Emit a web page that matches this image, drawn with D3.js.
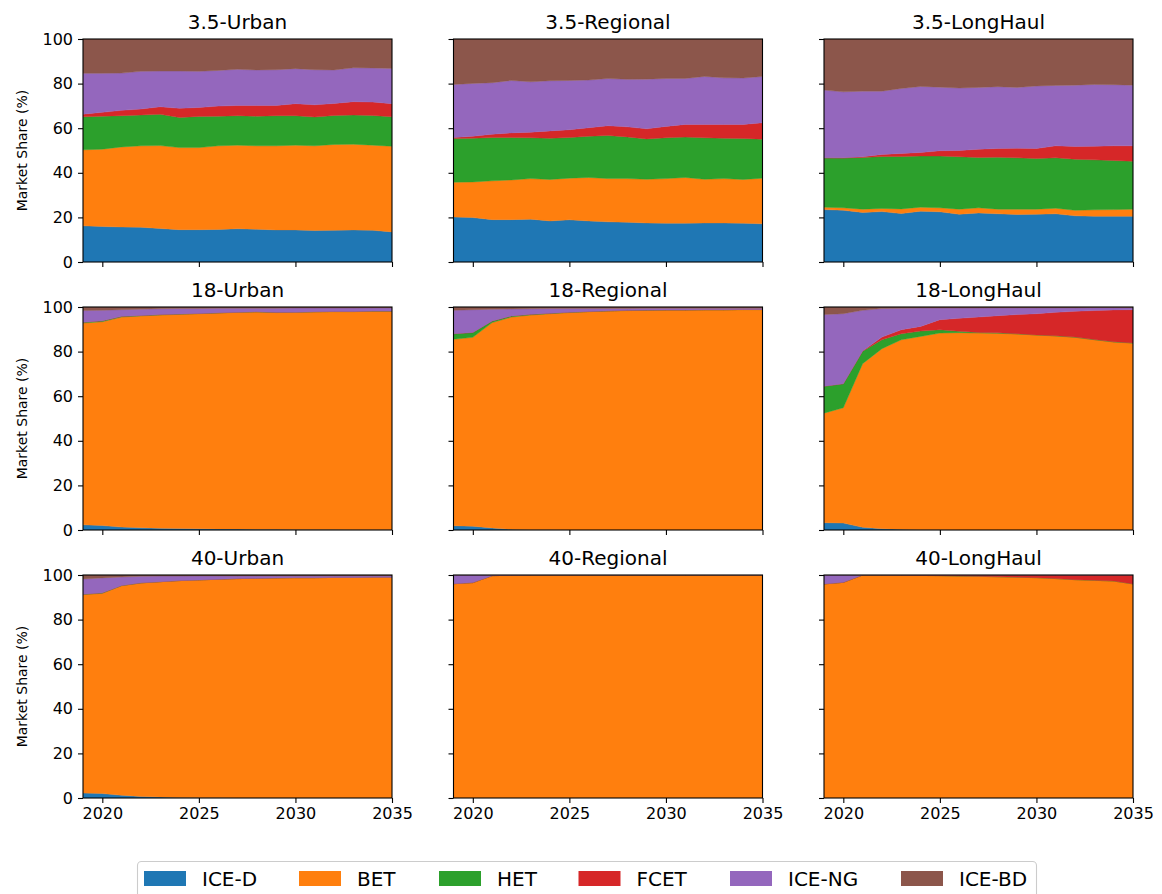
<!DOCTYPE html>
<html>
<head>
<meta charset="utf-8">
<script src="https://cdn.jsdelivr.net/npm/d3@7"></script>
<style>
  html, body { margin: 0; padding: 0; background: #fff; }
  svg { display: block; font-family: "DejaVu Sans", sans-serif; }
</style>
</head>
<body>
<svg id="chart" width="1162" height="894"></svg>
<script>
// Years on the x axis and the tick labels shown
const years = [2019, 2020, 2021, 2022, 2023, 2024, 2025, 2026, 2027, 2028, 2029, 2030, 2031, 2032, 2033, 2034, 2035];
const xTicks = [2020, 2025, 2030, 2035];
const yTicks = [0, 20, 40, 60, 80, 100];

// Powertrain technologies (stack order, bottom to top) and their colours
const technologies = ["ICE-D", "BET", "HET", "FCET", "ICE-NG", "ICE-BD"];
const techColors = ["#1f77b4", "#ff7f0e", "#2ca02c", "#d62728", "#9467bd", "#8c564b"];

// Vehicle weight classes (rows) and duty cycles (columns)
const weightClasses = ["3.5", "18", "40"];
const dutyCycles = ["Urban", "Regional", "LongHaul"];

// Market share (%) per technology, 3.5 t
const t35Urban_ICED  = [16.2,15.9,15.7,15.6,15.0,14.5,14.5,14.6,14.9,14.7,14.4,14.4,14.1,14.2,14.4,14.2,13.5];
const t35Urban_BET   = [34.1,34.7,35.9,36.5,37.2,36.8,36.8,37.5,37.5,37.4,37.7,38.0,38.0,38.5,38.4,38.2,38.4];
const t35Urban_HET   = [14.8,14.8,14.0,13.8,14.0,13.5,14.0,13.3,13.2,13.3,13.5,13.2,12.9,13.0,13.1,13.3,13.2];
const t35Urban_FCET  = [1.2,1.7,2.4,2.7,3.4,4.1,4.0,4.5,4.6,4.8,4.6,5.4,5.5,5.4,6.0,6.0,5.9];
const t35Urban_ICENG = [18.3,17.5,16.7,16.9,16.0,16.7,16.2,16.0,16.2,15.9,16.0,15.7,15.7,15.0,15.2,15.3,15.8];
const t35Urban_ICEBD = [15.4,15.4,15.3,14.5,14.4,14.4,14.5,14.1,13.6,13.9,13.8,13.3,13.8,13.9,12.9,13.0,13.2];

const t35Regional_ICED  = [20.2,19.9,19.0,19.0,19.2,18.4,18.9,18.4,18.0,17.8,17.5,17.4,17.4,17.5,17.5,17.4,17.1];
const t35Regional_BET   = [15.6,16.0,17.4,17.8,18.2,18.6,18.7,19.5,19.4,19.6,19.6,20.0,20.5,19.6,19.9,19.6,20.5];
const t35Regional_HET   = [19.6,19.6,19.4,19.0,18.3,18.5,18.2,18.5,19.3,18.7,18.1,18.3,18.1,18.6,18.1,18.4,17.5];
const t35Regional_FCET  = [0.4,0.9,1.5,2.1,2.5,3.3,3.5,3.8,4.4,4.5,4.5,5.1,5.7,6.0,6.2,6.3,7.3];
const t35Regional_ICENG = [23.8,23.7,23.1,23.5,22.6,22.5,22.1,21.4,21.2,21.3,22.3,21.5,20.6,21.5,20.9,20.8,20.8];
const t35Regional_ICEBD = [20.4,19.9,19.6,18.6,19.2,18.7,18.6,18.4,17.7,18.1,18.0,17.7,17.7,16.8,17.4,17.5,16.8];

const t35LongHaul_ICED  = [23.5,23.2,22.2,22.6,21.7,22.8,22.5,21.4,22.0,21.6,21.3,21.4,21.6,20.7,20.5,20.5,20.5];
const t35LongHaul_BET   = [1.1,1.1,1.5,1.4,2.1,1.8,1.8,2.3,2.3,2.1,2.4,2.3,2.5,2.5,2.9,3.0,3.2];
const t35LongHaul_HET   = [22.1,22.3,23.2,23.3,23.5,22.9,23.2,23.5,22.6,23.3,23.0,22.7,22.6,22.9,22.4,22.0,21.5];
const t35LongHaul_FCET  = [0.0,0.1,0.3,0.9,1.4,1.6,2.4,2.8,3.7,3.9,4.3,4.5,5.4,5.7,6.1,6.6,6.9];
const t35LongHaul_ICENG = [30.4,29.6,29.4,28.4,29.1,29.6,28.5,28.0,27.7,27.7,27.3,28.0,27.1,27.5,27.7,27.4,27.2];
const t35LongHaul_ICEBD = [22.9,23.7,23.4,23.4,22.2,21.3,21.6,22.0,21.7,21.4,21.7,21.1,20.8,20.7,20.4,20.5,20.7];

// Market share (%) per technology, 18 t
const t18Urban_ICED  = [2.3,2.0,1.3,1.0,0.8,0.7,0.6,0.5,0.4,0.3,0.3,0.2,0.2,0.2,0.1,0.1,0.1];
const t18Urban_BET   = [90.5,91.4,94.2,95.0,95.6,96.0,96.4,96.8,97.2,97.5,97.2,97.4,97.6,97.7,97.8,98.0,98.0];
const t18Urban_HET   = [0.4,0.4,0.3,0.2,0.2,0.2,0.1,0.1,0.1,0.1,0.1,0.1,0.1,0.1,0.1,0.1,0.1];
const t18Urban_FCET  = [0,0,0,0,0,0,0,0,0,0,0,0,0,0,0,0,0];
const t18Urban_ICENG = [5.2,4.7,3.0,2.8,2.6,2.4,2.2,2.0,1.7,1.5,1.8,1.8,1.6,1.5,1.5,1.4,1.4];
const t18Urban_ICEBD = [1.6,1.5,1.2,1.0,0.8,0.7,0.7,0.6,0.6,0.6,0.6,0.5,0.5,0.5,0.5,0.4,0.4];

const t18Regional_ICED  = [1.9,1.7,0.9,0.3,0.1,0.1,0,0,0,0,0,0,0,0,0,0,0];
const t18Regional_BET   = [83.6,84.7,92.1,95.2,96.3,96.9,97.5,97.9,98.2,98.4,98.5,98.6,98.6,98.7,98.7,98.8,98.8];
const t18Regional_HET   = [2.5,2.2,0.7,0.5,0.3,0.2,0.2,0.1,0.1,0.1,0.1,0.1,0.1,0.1,0.1,0.1,0.1];
const t18Regional_FCET  = [0,0,0,0,0,0,0,0,0,0,0,0,0,0,0,0,0];
const t18Regional_ICENG = [10.5,10.2,5.3,3.1,2.5,2.1,1.6,1.3,1.0,0.8,0.8,0.7,0.7,0.6,0.6,0.5,0.5];
const t18Regional_ICEBD = [1.5,1.2,1.0,0.9,0.8,0.7,0.7,0.7,0.7,0.7,0.6,0.6,0.6,0.6,0.6,0.6,0.6];

const t18LongHaul_ICED  = [3.3,3.1,1.2,0.6,0.3,0.1,0.1,0,0,0,0,0,0,0,0,0,0];
const t18LongHaul_BET   = [49.1,51.7,73.4,80.7,85.0,86.7,88.2,88.5,88.3,88.2,87.9,87.4,87.0,86.4,85.3,84.3,83.8];
const t18LongHaul_HET   = [12.1,10.8,5.6,4.0,2.7,2.4,1.5,0.6,0.3,0.2,0.1,0.1,0.1,0.1,0.1,0.1,0.1];
const t18LongHaul_FCET  = [0,0,0.1,1.2,1.8,2.1,4.5,5.8,6.9,7.7,8.6,9.5,10.5,11.6,13.0,14.3,14.9];
const t18LongHaul_ICENG = [32.1,31.4,18.2,12.8,9.6,8.2,5.2,4.6,4.0,3.5,3.0,2.6,2.0,1.5,1.3,1.0,0.9];
const t18LongHaul_ICEBD = [3.4,3.0,1.5,0.7,0.6,0.5,0.5,0.5,0.5,0.4,0.4,0.4,0.4,0.4,0.3,0.3,0.3];

// Market share (%) per technology, 40 t
const t40Urban_ICED  = [2.2,2.0,1.2,0.7,0.4,0.2,0.1,0.1,0,0,0,0,0,0,0,0,0];
const t40Urban_BET   = [89.0,89.8,94.0,95.7,96.6,97.3,97.7,98.0,98.4,98.5,98.7,98.8,98.8,98.9,98.9,99.0,99.0];
const t40Urban_HET   = [0.2,0.2,0.1,0.1,0,0,0,0,0,0,0,0,0,0,0,0,0];
const t40Urban_FCET  = [0,0,0,0,0,0,0,0,0,0,0,0,0,0,0,0,0];
const t40Urban_ICENG = [6.8,6.7,3.8,2.9,2.5,2.0,1.8,1.5,1.2,1.1,0.9,0.8,0.8,0.7,0.7,0.6,0.6];
const t40Urban_ICEBD = [1.8,1.3,0.9,0.6,0.5,0.5,0.4,0.4,0.4,0.4,0.4,0.4,0.4,0.4,0.4,0.4,0.4];

const t40Regional_ICED  = [0,0,0,0,0,0,0,0,0,0,0,0,0,0,0,0,0];
const t40Regional_BET   = [96.1,96.6,99.7,99.9,100,100,100,100,100,100,100,100,100,100,100,100,100];
const t40Regional_HET   = [0,0,0,0,0,0,0,0,0,0,0,0,0,0,0,0,0];
const t40Regional_FCET  = [0,0,0,0,0,0,0,0,0,0,0,0,0,0,0,0,0];
const t40Regional_ICENG = [3.9,3.4,0.3,0.1,0,0,0,0,0,0,0,0,0,0,0,0,0];
const t40Regional_ICEBD = [0,0,0,0,0,0,0,0,0,0,0,0,0,0,0,0,0];

const t40LongHaul_ICED  = [0,0,0,0,0,0,0,0,0,0,0,0,0,0,0,0,0];
const t40LongHaul_BET   = [96.0,96.7,100,100,99.9,99.8,99.7,99.5,99.4,99.2,99.0,98.8,98.4,97.9,97.6,97.3,96.0];
const t40LongHaul_HET   = [0,0,0,0,0,0,0,0,0,0,0,0,0,0,0,0,0];
const t40LongHaul_FCET  = [0,0,0,0,0.1,0.2,0.3,0.5,0.6,0.8,1.0,1.2,1.6,2.1,2.4,2.7,4.0];
const t40LongHaul_ICENG = [4.0,3.3,0,0,0,0,0,0,0,0,0,0,0,0,0,0,0];
const t40LongHaul_ICEBD = [0,0,0,0,0,0,0,0,0,0,0,0,0,0,0,0,0];

// Series of each panel, grouped in technology order
const panelSeries = [
  [
    [t35Urban_ICED, t35Urban_BET, t35Urban_HET, t35Urban_FCET, t35Urban_ICENG, t35Urban_ICEBD],
    [t35Regional_ICED, t35Regional_BET, t35Regional_HET, t35Regional_FCET, t35Regional_ICENG, t35Regional_ICEBD],
    [t35LongHaul_ICED, t35LongHaul_BET, t35LongHaul_HET, t35LongHaul_FCET, t35LongHaul_ICENG, t35LongHaul_ICEBD]
  ],
  [
    [t18Urban_ICED, t18Urban_BET, t18Urban_HET, t18Urban_FCET, t18Urban_ICENG, t18Urban_ICEBD],
    [t18Regional_ICED, t18Regional_BET, t18Regional_HET, t18Regional_FCET, t18Regional_ICENG, t18Regional_ICEBD],
    [t18LongHaul_ICED, t18LongHaul_BET, t18LongHaul_HET, t18LongHaul_FCET, t18LongHaul_ICENG, t18LongHaul_ICEBD]
  ],
  [
    [t40Urban_ICED, t40Urban_BET, t40Urban_HET, t40Urban_FCET, t40Urban_ICENG, t40Urban_ICEBD],
    [t40Regional_ICED, t40Regional_BET, t40Regional_HET, t40Regional_FCET, t40Regional_ICENG, t40Regional_ICEBD],
    [t40LongHaul_ICED, t40LongHaul_BET, t40LongHaul_HET, t40LongHaul_FCET, t40LongHaul_ICENG, t40LongHaul_ICEBD]
  ]
];

// ---- layout ----
const svg = d3.select("#chart");
const colLeft = [83, 453.5, 824];
const rowTop = [39, 307, 575];
const panelW = 309;
const panelH = 223;

const x = d3.scaleLinear().domain([years[0], years[years.length - 1]]).range([0, panelW]);
const y = d3.scaleLinear().domain([0, 100]).range([panelH, 0]);

const stack = d3.stack().keys(technologies);
const area = d3.area()
  .x(d => x(d.data.year))
  .y0(d => y(d[0]))
  .y1(d => y(d[1]));

weightClasses.forEach((wc, r) => {
  dutyCycles.forEach((dc, c) => {
    const series = panelSeries[r][c];
    const table = years.map((yr, i) => {
      const row = { year: yr };
      technologies.forEach((t, k) => { row[t] = series[k][i]; });
      return row;
    });

    const g = svg.append("g")
      .attr("transform", `translate(${colLeft[c]},${rowTop[r]})`);

    g.append("clipPath").attr("id", `clip-${r}-${c}`)
      .append("rect").attr("width", panelW).attr("height", panelH);

    g.append("g").attr("clip-path", `url(#clip-${r}-${c})`)
      .selectAll("path")
      .data(stack(table))
      .join("path")
      .attr("d", area)
      .attr("fill", (d, i) => techColors[i])
      .attr("stroke", (d, i) => techColors[i])
      .attr("stroke-width", 0.4);

    // x axis
    const xa = d3.axisBottom(x).tickValues(xTicks).tickSize(5).tickPadding(5)
      .tickFormat(r === weightClasses.length - 1 ? d3.format("d") : () => "");
    const gx = g.append("g").attr("transform", `translate(0,${panelH})`).call(xa);

    // y axis
    const ya = d3.axisLeft(y).tickValues(yTicks).tickSize(5).tickPadding(5)
      .tickFormat(c === 0 ? d3.format("d") : () => "");
    const gy = g.append("g").call(ya);

    [gx, gy].forEach(a => {
      a.select(".domain").remove();
      a.selectAll(".tick line").attr("stroke", "#000").attr("stroke-width", 1.1);
      a.selectAll(".tick text").attr("fill", "#000")
        .style("font-family", "'DejaVu Sans', sans-serif").style("font-size", "16px");
    });

    // frame
    g.append("rect")
      .attr("width", panelW).attr("height", panelH)
      .attr("fill", "none").attr("stroke", "#000").attr("stroke-width", 1.1);

    // title
    g.append("text")
      .attr("x", panelW / 2).attr("y", -10)
      .attr("text-anchor", "middle")
      .style("font-size", "20px")
      .text(`${wc}-${dc}`);

    if (c === 0) {
      g.append("text")
        .attr("transform", `translate(${-56},${panelH / 2}) rotate(-90)`)
        .attr("text-anchor", "middle")
        .style("font-size", "14px")
        .text("Market Share (%)");
    }
  });
});

// ---- legend ----
const legend = svg.append("g");
legend.append("rect")
  .attr("x", 137.5).attr("y", 861.5)
  .attr("width", 899).attr("height", 50)
  .attr("rx", 4)
  .attr("fill", "#fff").attr("stroke", "#cccccc").attr("stroke-width", 1.1);

const itemX = [144, 299, 439, 578.5, 730, 901];
technologies.forEach((t, i) => {
  const li = legend.append("g").attr("transform", `translate(${itemX[i]},871)`);
  li.append("rect").attr("width", 42).attr("height", 15).attr("fill", techColors[i]);
  li.append("text").attr("x", 58).attr("y", 15)
    .style("font-size", "20px")
    .text(t);
});
</script>
</body>
</html>
